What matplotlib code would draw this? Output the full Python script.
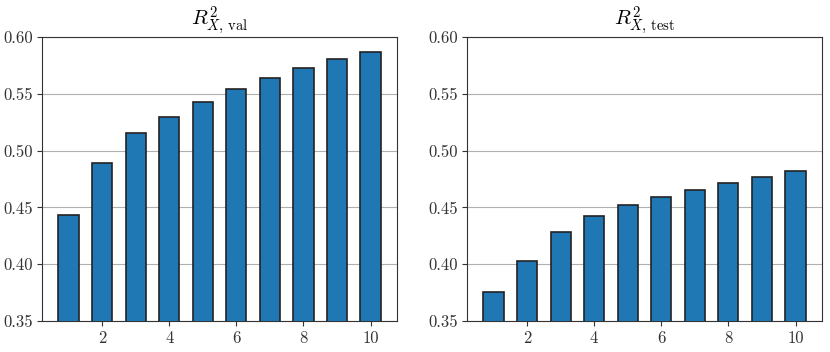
import matplotlib
matplotlib.use("Agg")
import matplotlib.pyplot as plt

plt.rcParams['font.family'] = 'serif'
plt.rcParams['font.serif'] = ['cmr10']
plt.rcParams['mathtext.fontset'] = 'cm'
plt.rcParams['axes.formatter.use_mathtext'] = True

k = [1, 2, 3, 4, 5, 6, 7, 8, 9, 10]
r2_val = [0.4435, 0.4893, 0.5157, 0.5296, 0.5430, 0.5541, 0.5640, 0.5727, 0.5806, 0.5868]
r2_test = [0.3756, 0.4029, 0.4287, 0.4421, 0.4523, 0.4591, 0.4653, 0.4717, 0.4770, 0.4822]
titles = [r'$R^2_{X,\,\mathrm{val}}$', r'$R^2_{X,\,\mathrm{test}}$']
xticks = [2, 4, 6, 8, 10]
yticks = [0.35, 0.40, 0.45, 0.50, 0.55, 0.60]

fig = plt.figure(figsize=(8.3, 3.52), dpi=100)
ax1 = fig.add_axes([0.051, 0.088, 0.427, 0.807])
ax2 = fig.add_axes([0.563, 0.088, 0.427, 0.807])

for ax, vals, title in zip([ax1, ax2], [r2_val, r2_test], titles):
    ax.bar(k, vals, width=0.6, color='#1f77b4', edgecolor='#222222', linewidth=1.2, zorder=3)
    ax.set_ylim(0.35, 0.60)
    ax.set_yticks(yticks)
    ax.set_yticklabels([f'{v:.2f}' for v in yticks])
    ax.set_xticks(xticks)
    ax.set_xticklabels([str(v) for v in xticks])
    ax.yaxis.grid(True, color='#b0b0b0', linewidth=0.8, zorder=0)
    ax.set_axisbelow(True)
    ax.tick_params(labelsize=12, length=3.5, colors='#333333', labelcolor='#333333')
    ax.set_title(title, fontsize=15, pad=6)
    for s in ax.spines.values():
        s.set_color('#333333')

fig.savefig('out.png', dpi=100)
